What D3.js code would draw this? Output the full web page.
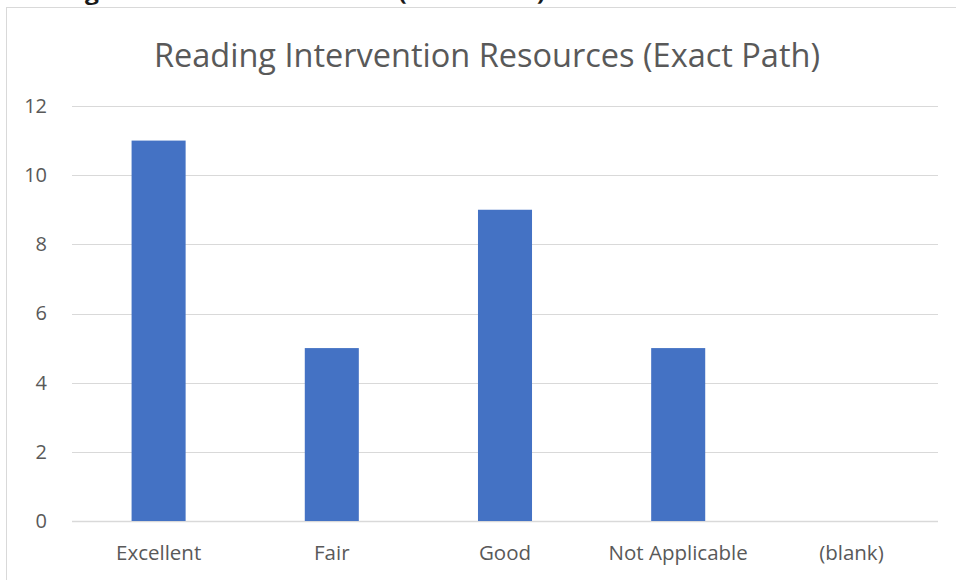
<!DOCTYPE html>
<html><head><meta charset="utf-8">
<script src="https://cdn.jsdelivr.net/npm/d3@7"></script>
<style>html,body{margin:0;padding:0;background:#fff;overflow:hidden}</style>
</head><body>
<svg id="c" width="956" height="580"></svg>
<script>
const categories = ["Excellent", "Fair", "Good", "Not Applicable", "(blank)"];
const values = [11, 5, 9, 5, null];
const yTicks = [0, 2, 4, 6, 8, 10, 12];
const chartTitle = "Reading Intervention Resources (Exact Path)";
const sheetHeading = "Reading Intervention Resources (Exact Path)";

(function () {
const svg = d3.select("#c");
const font = "'Open Sans', Carlito, Calibri, sans-serif";
const pl = 72, pr = 938, pt = 106, pb = 521;

svg.append("rect").attr("width", 956).attr("height", 580).attr("fill", "#fff");
// cut-off heading above the chart frame
svg.append("text").attr("x", 0).attr("y", 0)
  .attr("font-family", font).attr("font-weight", "bold").attr("font-size", 22)
  .attr("fill", "#1a1a1a").attr("textLength", 545).attr("lengthAdjust", "spacingAndGlyphs")
  .text(sheetHeading);
// chart frame
svg.append("rect").attr("x", 6.5).attr("y", 7.5).attr("width", 980).attr("height", 600)
  .attr("fill", "#fff").attr("stroke", "#d9d9d9").attr("stroke-width", 1);

const x = d3.scaleBand().domain(categories).range([pl, pr]).paddingInner(0.688).paddingOuter(0.344);
const y = d3.scaleLinear().domain([0, 12]).range([pb, pt]);

// gridlines
svg.append("g").selectAll("line").data(yTicks).join("line")
  .attr("x1", pl).attr("x2", pr)
  .attr("y1", d => Math.round(y(d)) + 0.5).attr("y2", d => Math.round(y(d)) + 0.5)
  .attr("stroke", "#d9d9d9").attr("stroke-width", d => d === 0 ? 1.5 : 1);

// y axis labels
const yAxis = svg.append("g").attr("transform", `translate(${pl},0)`)
  .call(d3.axisLeft(y).tickValues(yTicks).tickSize(0).tickPadding(25));
yAxis.select(".domain").remove();
yAxis.attr("font-size", null).attr("font-family", null);
yAxis.selectAll("text").style("font-family", font).style("font-size", "20px").attr("fill", "#595959");

// bars
svg.append("g").selectAll("rect").data(categories.map((c, i) => ({c, v: values[i]})).filter(d => d.v != null))
  .join("rect")
  .attr("x", d => x(d.c)).attr("width", x.bandwidth())
  .attr("y", d => y(d.v)).attr("height", d => y(0) - y(d.v))
  .attr("fill", "#4472c4");

// x axis labels
const xAxis = svg.append("g").attr("transform", `translate(0,${pb})`)
  .call(d3.axisBottom(x).tickSize(0).tickPadding(24));
xAxis.select(".domain").remove();
xAxis.attr("font-size", null).attr("font-family", null);
xAxis.selectAll("text").style("font-family", font).style("font-size", "20.5px").attr("fill", "#595959");

// title
svg.append("text").attr("x", 487).attr("y", 67).attr("text-anchor", "middle")
  .style("font-family", font).style("font-size", "32.5px").attr("fill", "#595959")
  .text(chartTitle);
})();
</script>
</body></html>
